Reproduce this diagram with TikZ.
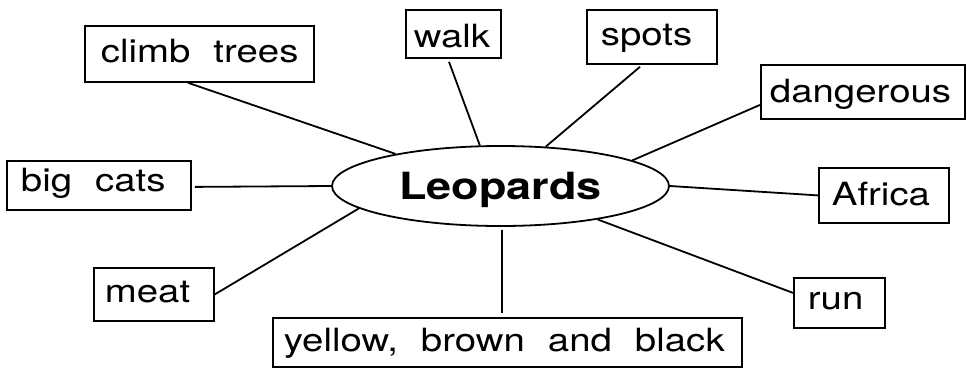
\documentclass[tikz,border=0pt]{standalone}
\usepackage{fontspec}
\setmainfont[FakeStretch=1.2]{TeX Gyre Heros}
\usetikzlibrary{shapes.geometric,calc}
\newcommand\wsp{\hspace{23pt}}
\begin{document}
\begin{tikzpicture}[x=1pt,y=-1pt,
  box/.style={draw, line width=1.8pt, anchor=north west, inner ysep=0pt, align=left,
    font=\fontsize{32}{38}\selectfont},
  link/.style={line width=1.8pt}]
\useasboundingbox (0,0) rectangle (967,367);
% boxes
\node[box, inner xsep=16pt, text width=197pt, text height=37pt, text depth=19pt] (ct) at (84,25) {\mbox{climb\wsp trees}};
\node[box, inner xsep=8pt, text width=79pt, text height=38pt, text depth=10pt] (walk) at (405,9) {\mbox{walk}};
\node[box, inner xsep=14pt, text width=102pt, text height=36pt, text depth=18pt] (spots) at (586,9) {\mbox{spots}};
\node[box, inner xsep=9pt, text width=186pt, text height=38pt, text depth=16pt] (dg) at (760,64) {\mbox{dangerous}};
\node[box, inner xsep=14pt, text width=156pt, text height=31pt, text depth=18pt] (bc) at (6,160) {\mbox{big\wsp cats}};
\node[box, inner xsep=13pt, text width=104pt, text height=38pt, text depth=17pt] (af) at (818,167) {\mbox{Africa}};
\node[box, inner xsep=11pt, text width=98pt, text height=35pt, text depth=18pt] (meat) at (93,267) {\mbox{meat}};
\node[box, inner xsep=14pt, text width=63pt, text height=32pt, text depth=18pt] (run) at (793,277) {\mbox{run}};
\node[box, inner xsep=11pt, text width=447pt, text height=34pt, text depth=15pt] (yb) at (272,317) {\mbox{yellow,\wsp brown\wsp and\wsp black}};
% centre
\node[draw, ellipse, line width=1.8pt, minimum width=337pt, minimum height=80pt, inner sep=0pt,
  text height=27pt, text depth=0pt, font=\fontsize{37.5}{40}\selectfont\bfseries] (leo) at (500.5,186) {Leopards};
% connectors
\draw[link] ($(ct.south west)+(104,0)$) -- (leo.163.6);
\draw[link] ($(walk.south west)+(44,3)$) -- (leo.117.7);
\draw[link] ($(spots.south west)+(54,2)$) -- (leo.41.5);
\draw[link] ($(dg.west)+(0,13)$) -- (leo.11.4);
\draw[link] (af.west) -- (leo.east);
\draw[link] ($(run.west)+(0,-10)$) -- (leo.-19.9);
\draw[link] ($(leo.south)+(1.5,3)$) -- ($(leo.south |- yb.north)+(1.5,-4)$);
\draw[link] (meat.east) -- (leo.189.8);
\draw[link] ($(bc.east)+(3,1.5)$) -- (leo.west);
\end{tikzpicture}
\end{document}
